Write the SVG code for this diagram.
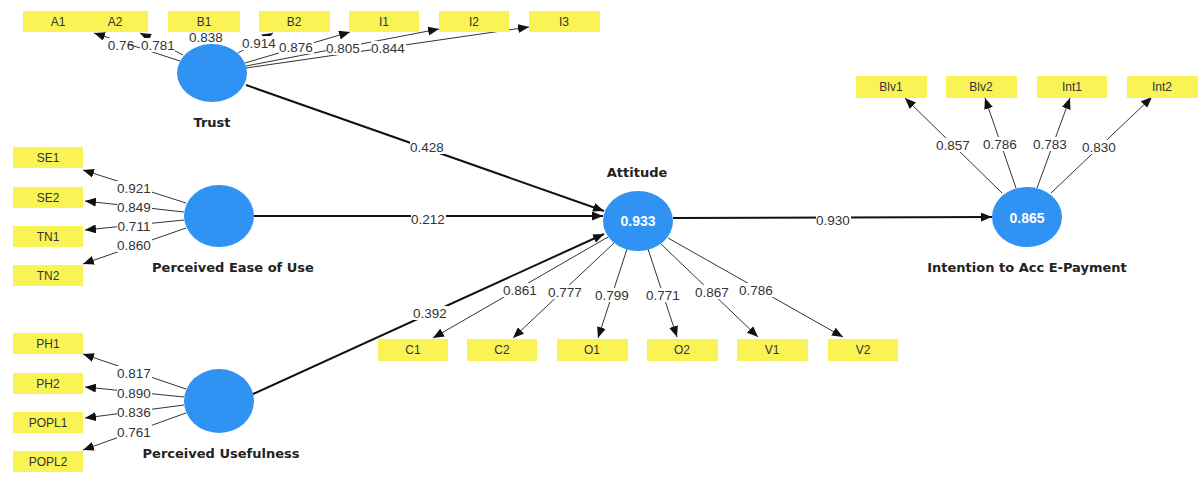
<svg xmlns="http://www.w3.org/2000/svg" width="1200" height="477" viewBox="0 0 1200 477">
<style>
.box{fill:#f9f356;}
.bt{font-family:"Liberation Sans",Arial,sans-serif;font-size:12px;fill:#333;text-anchor:middle;dominant-baseline:central;}
.lv{fill:#3092f2;}
.name{font-family:"DejaVu Sans",Verdana,sans-serif;font-size:13px;font-weight:bold;fill:#222;text-anchor:middle;dominant-baseline:central;}
.r2{font-family:"Liberation Sans",Arial,sans-serif;font-size:14px;font-weight:bold;fill:#fff;text-anchor:middle;dominant-baseline:central;}
.ld{stroke:#333;stroke-width:1;fill:none;marker-end:url(#ah);}
.pa{stroke:#111;stroke-width:2;fill:none;marker-end:url(#ah);}
.lb{fill:#fff;}
.lt{font-family:"Liberation Sans",Arial,sans-serif;font-size:13.5px;fill:#333;text-anchor:middle;dominant-baseline:central;}
</style>
<defs>
<marker id="ah" markerUnits="userSpaceOnUse" markerWidth="11" markerHeight="9" refX="11" refY="4.5" orient="auto">
<path d="M0,0 L11,4.5 L0,9 z" fill="#111"/>
</marker>
</defs>
<rect width="1200" height="477" fill="#fff"/>

<g id="connectors">
<!-- Trust indicators -->
<line class="ld" x1="180" y1="61" x2="94" y2="33"/>
<line class="ld" x1="183" y1="55" x2="140" y2="33"/>
<line class="ld" x1="208" y1="45" x2="206" y2="33"/>
<line class="ld" x1="238" y1="53" x2="273" y2="33"/>
<line class="ld" x1="245" y1="63" x2="350" y2="32"/>
<line class="ld" x1="246" y1="66" x2="439" y2="29"/>
<line class="ld" x1="246" y1="68" x2="529" y2="27"/>
<!-- PEOU indicators -->
<line class="ld" x1="186" y1="203" x2="83" y2="170"/>
<line class="ld" x1="184" y1="212" x2="85" y2="201"/>
<line class="ld" x1="184" y1="220" x2="85" y2="230"/>
<line class="ld" x1="186" y1="228" x2="83" y2="264"/>
<!-- PU indicators -->
<line class="ld" x1="186" y1="389" x2="83" y2="354"/>
<line class="ld" x1="184" y1="397" x2="85" y2="387"/>
<line class="ld" x1="184" y1="405" x2="85" y2="418"/>
<line class="ld" x1="186" y1="413" x2="83" y2="450"/>
<!-- Attitude indicators -->
<line class="ld" x1="608" y1="237" x2="433" y2="338"/>
<line class="ld" x1="614" y1="243" x2="513" y2="338"/>
<line class="ld" x1="627" y1="249" x2="598" y2="338"/>
<line class="ld" x1="648" y1="249" x2="677" y2="337"/>
<line class="ld" x1="661" y1="244" x2="758" y2="337"/>
<line class="ld" x1="668" y1="238" x2="843" y2="337"/>
<!-- Intention indicators -->
<line class="ld" x1="1002" y1="193" x2="905" y2="98"/>
<line class="ld" x1="1016" y1="188" x2="985" y2="98"/>
<line class="ld" x1="1037" y1="188" x2="1070" y2="98"/>
<line class="ld" x1="1051" y1="193" x2="1152" y2="97"/>
<!-- structural paths -->
<line class="pa" x1="246" y1="85" x2="604" y2="211"/>
<line class="pa" x1="254" y1="216" x2="603" y2="216"/>
<line class="pa" x1="253" y1="394" x2="604" y2="234"/>
<line class="pa" x1="673" y1="218" x2="992" y2="217"/>

<!-- labels -->
<g id="labels">
<rect class="lb" x="104" y="38" width="24" height="14"/><text class="lt" x="121" y="45">0.76</text>
<rect class="lb" x="140" y="38" width="35" height="14"/><text class="lt" x="158" y="45">0.781</text>
<rect class="lb" x="189" y="30" width="35" height="14"/><text class="lt" x="206" y="37">0.838</text>
<rect class="lb" x="242" y="36" width="35" height="14"/><text class="lt" x="259" y="43">0.914</text>
<rect class="lb" x="279" y="40" width="35" height="14"/><text class="lt" x="296" y="47">0.876</text>
<rect class="lb" x="326" y="41" width="35" height="14"/><text class="lt" x="343" y="48">0.805</text>
<rect class="lb" x="371" y="41" width="35" height="14"/><text class="lt" x="388" y="48">0.844</text>

<rect class="lb" x="117" y="181" width="35" height="14"/><text class="lt" x="134" y="188">0.921</text>
<rect class="lb" x="117" y="200" width="35" height="14"/><text class="lt" x="134" y="207">0.849</text>
<rect class="lb" x="117" y="219" width="35" height="14"/><text class="lt" x="134" y="226">0.711</text>
<rect class="lb" x="117" y="238" width="35" height="14"/><text class="lt" x="134" y="245">0.860</text>

<rect class="lb" x="117" y="366" width="35" height="14"/><text class="lt" x="134" y="373">0.817</text>
<rect class="lb" x="117" y="386" width="35" height="14"/><text class="lt" x="134" y="393">0.890</text>
<rect class="lb" x="117" y="405" width="35" height="14"/><text class="lt" x="134" y="412">0.836</text>
<rect class="lb" x="117" y="425" width="35" height="14"/><text class="lt" x="134" y="432">0.761</text>

<rect class="lb" x="410" y="140" width="35" height="14"/><text class="lt" x="427" y="147">0.428</text>
<rect class="lb" x="411" y="212" width="35" height="14"/><text class="lt" x="428" y="219">0.212</text>
<rect class="lb" x="413" y="306" width="35" height="14"/><text class="lt" x="430" y="313">0.392</text>
<rect class="lb" x="816" y="213" width="35" height="14"/><text class="lt" x="833" y="220">0.930</text>

<rect class="lb" x="503" y="283" width="35" height="14"/><text class="lt" x="520" y="290">0.861</text>
<rect class="lb" x="548" y="285" width="35" height="14"/><text class="lt" x="565" y="292">0.777</text>
<rect class="lb" x="595" y="288" width="35" height="14"/><text class="lt" x="612" y="295">0.799</text>
<rect class="lb" x="646" y="288" width="35" height="14"/><text class="lt" x="663" y="295">0.771</text>
<rect class="lb" x="695" y="285" width="35" height="14"/><text class="lt" x="712" y="292">0.867</text>
<rect class="lb" x="739" y="283" width="35" height="14"/><text class="lt" x="756" y="290">0.786</text>

<rect class="lb" x="936" y="138" width="35" height="14"/><text class="lt" x="953" y="145">0.857</text>
<rect class="lb" x="983" y="137" width="35" height="14"/><text class="lt" x="1000" y="144">0.786</text>
<rect class="lb" x="1033" y="137" width="35" height="14"/><text class="lt" x="1050" y="144">0.783</text>
<rect class="lb" x="1082" y="140" width="35" height="14"/><text class="lt" x="1099" y="147">0.830</text>
</g>
</g>

<!-- Latent variables -->
<g id="trust"><ellipse class="lv" cx="212" cy="73" rx="35" ry="29"/><text class="name" x="212" y="122">Trust</text></g>
<g id="peou"><ellipse class="lv" cx="219" cy="216" rx="35" ry="31"/><text class="name" x="233" y="267">Perceived Ease of Use</text></g>
<g id="pu"><ellipse class="lv" cx="219" cy="401" rx="35" ry="32"/><text class="name" x="221" y="453">Perceived Usefulness</text></g>
<g id="attitude"><ellipse class="lv" cx="638" cy="221" rx="35" ry="30"/><text class="r2" x="638" y="221">0.933</text><text class="name" x="637" y="172">Attitude</text></g>
<g id="intention"><ellipse class="lv" cx="1027" cy="217" rx="35" ry="30"/><text class="r2" x="1027" y="218">0.865</text><text class="name" x="1027" y="267">Intention to Acc E-Payment</text></g>

<!-- Indicators -->
<g id="A1"><rect class="box" x="23" y="11" width="64" height="21"/><text class="bt" x="58" y="22">A1</text></g>
<g id="A2"><rect class="box" x="85" y="11" width="63" height="21"/><text class="bt" x="115" y="22">A2</text></g>
<g id="B1"><rect class="box" x="168" y="11" width="72" height="21"/><text class="bt" x="204" y="22">B1</text></g>
<g id="B2"><rect class="box" x="259" y="11" width="71" height="21"/><text class="bt" x="294" y="22">B2</text></g>
<g id="I1"><rect class="box" x="349" y="11" width="70" height="21"/><text class="bt" x="384" y="22">I1</text></g>
<g id="I2"><rect class="box" x="439" y="11" width="70" height="21"/><text class="bt" x="474" y="22">I2</text></g>
<g id="I3"><rect class="box" x="529" y="11" width="71" height="21"/><text class="bt" x="564" y="22">I3</text></g>

<g id="SE1"><rect class="box" x="13" y="147" width="70" height="21"/><text class="bt" x="48" y="158">SE1</text></g>
<g id="SE2"><rect class="box" x="13" y="187" width="70" height="21"/><text class="bt" x="48" y="198">SE2</text></g>
<g id="TN1"><rect class="box" x="13" y="226" width="70" height="21"/><text class="bt" x="48" y="237">TN1</text></g>
<g id="TN2"><rect class="box" x="13" y="265" width="70" height="21"/><text class="bt" x="48" y="276">TN2</text></g>

<g id="PH1"><rect class="box" x="13" y="333" width="70" height="21"/><text class="bt" x="48" y="344">PH1</text></g>
<g id="PH2"><rect class="box" x="13" y="373" width="70" height="21"/><text class="bt" x="48" y="384">PH2</text></g>
<g id="POPL1"><rect class="box" x="13" y="412" width="70" height="21"/><text class="bt" x="48" y="423">POPL1</text></g>
<g id="POPL2"><rect class="box" x="13" y="451" width="70" height="21"/><text class="bt" x="48" y="462">POPL2</text></g>

<g id="C1"><rect class="box" x="378" y="339" width="70" height="22"/><text class="bt" x="413" y="350">C1</text></g>
<g id="C2"><rect class="box" x="467" y="339" width="70" height="22"/><text class="bt" x="502" y="350">C2</text></g>
<g id="O1"><rect class="box" x="557" y="339" width="71" height="22"/><text class="bt" x="592" y="350">O1</text></g>
<g id="O2"><rect class="box" x="647" y="339" width="71" height="22"/><text class="bt" x="682" y="350">O2</text></g>
<g id="V1"><rect class="box" x="737" y="339" width="71" height="22"/><text class="bt" x="772" y="350">V1</text></g>
<g id="V2"><rect class="box" x="828" y="339" width="70" height="22"/><text class="bt" x="863" y="350">V2</text></g>

<g id="Blv1"><rect class="box" x="856" y="76" width="71" height="22"/><text class="bt" x="891" y="87">Blv1</text></g>
<g id="Blv2"><rect class="box" x="946" y="76" width="71" height="22"/><text class="bt" x="981" y="87">Blv2</text></g>
<g id="Int1"><rect class="box" x="1037" y="76" width="70" height="22"/><text class="bt" x="1072" y="87">Int1</text></g>
<g id="Int2"><rect class="box" x="1127" y="76" width="71" height="22"/><text class="bt" x="1162" y="87">Int2</text></g>
</svg>
